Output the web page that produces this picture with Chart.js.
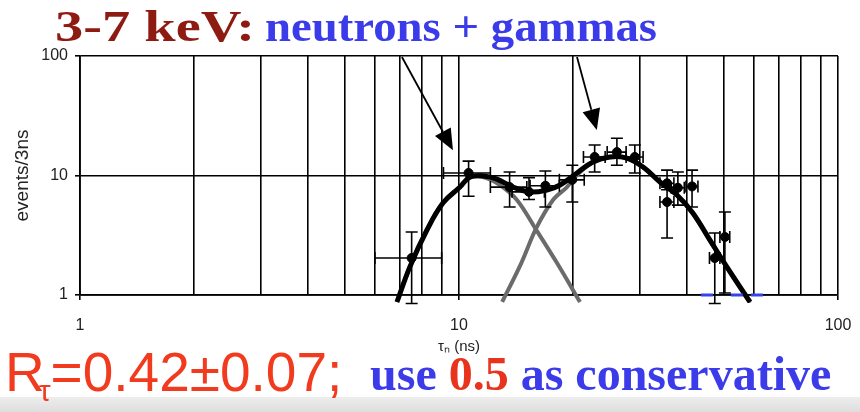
<!DOCTYPE html>
<html>
<head>
<meta charset="utf-8">
<script src="https://cdn.jsdelivr.net/npm/chart.js@4.4.0/dist/chart.umd.min.js"></script>
<style>
  html, body { margin: 0; padding: 0; background: #fff; }
  #wrap { position: relative; width: 860px; height: 412px; overflow: hidden; background: #fff; }
  #wrap canvas { position: absolute; left: 0; top: 0; }
  .heading { position: absolute; top: 5px; font: bold 44px/44px "Liberation Serif", serif; white-space: nowrap; transform-origin: 0 0; }
  .band { position: absolute; left: 0; right: 0; top: 397px; height: 15px; background: linear-gradient(#ededed, #dedede); }
  .ratio { position: absolute; left: 5px; top: 345px; font: 55px/55px "Liberation Sans", Arial, sans-serif; color: #f23a1e; white-space: nowrap; }
  .ratio sub { font-size: 30px; vertical-align: -10px; margin-left: -6px; }
  .note { position: absolute; left: 370px; top: 350px; font: bold 48px/48px "Liberation Serif", serif; color: #3b3bea; white-space: nowrap; }
  .red { color: #e8341c; }
</style>
</head>
<body>
<div id="wrap">
  <canvas id="chart" width="860" height="412"></canvas>
  <div class="heading" id="h1" style="left:55px;color:#8e1b12">3-7 keV:</div>
  <div class="heading" id="h2" style="left:265px;color:#3b3bea">neutrons + gammas</div>
  <div class="band"></div>
  <div class="ratio">R<sub>τ</sub>=0.42±0.07;</div>
  <div class="note">use <span class="red">0.5</span> as conservative</div>
</div>
<script>
// axis ticks
const xTicks = [1, 2, 3, 4, 5, 6, 7, 8, 9, 10, 20, 30, 40, 50, 60, 70, 80, 90, 100];
const yTicks = [1, 10, 100];
const tickLabels = ["1", "10", "100"];

// measured bins (ns) and counts with error bounds
const tau = [7.5, 10.6, 13.6, 15.3, 16.9, 19.9, 22.8, 26.1, 29.1, 35.4, 35.4, 37.8, 41.2, 47.3, 50.3];
const events = [2.04, 10.5, 8.0, 7.3, 8.2, 9.2, 14.3, 15.7, 14.3, 8.6, 6.0, 7.9, 8.1, 2.04, 3.06];
const eventsHi = [3.37, 13.2, 10.7, 9.6, 10.9, 12.2, 18.0, 20.5, 18.0, 11.1, 8.0, 10.7, 11.1, 3.3, 4.95];
const eventsLo = [0.85, 6.7, 5.45, 6.3, 5.45, 6.0, 10.7, 12.2, 10.5, 7.6, 3.0, 5.65, 5.45, 0.85, 1.04];
const binHalf = 1.5;

// empty bins sitting on the axis
const zeroTau = [45.1, 54.1, 61.1];
const zeroEvents = [1, 1, 1];

// fitted curves: sum, neutron part, gamma part
const fitTau = [6.86, 7.42, 8.23, 9.07, 10.06, 10.69, 11.57, 12.5, 13.88, 15.39, 17.06, 18.48, 20.48, 22.57, 25.0, 27.7, 30.6, 33.9, 37.6, 41.4, 45.9, 50.9, 58.6];
const fitSum = [0.874, 1.72, 3.5, 5.89, 8.01, 9.7, 9.9, 9.4, 8.01, 7.28, 7.56, 8.33, 10.5, 12.98, 14.28, 14.0, 11.78, 8.82, 6.87, 4.86, 2.89, 1.72, 0.874];
const nTau = [6.86, 7.42, 8.23, 9.07, 10.06, 10.69, 11.57, 12.82, 14.22, 15.87, 18.14, 20.86];
const nFit = [0.874, 1.72, 3.5, 5.89, 8.01, 9.6, 9.7, 8.33, 6.24, 3.64, 1.85, 0.874];
const gTau = [13.0, 14.6, 16.0, 17.7, 19.27, 20.48, 22.57, 25.0, 27.7, 30.6, 33.9, 37.6, 41.4, 45.9, 50.9, 58.6];
const gFit = [0.874, 1.85, 3.64, 6.24, 8.01, 10.1, 12.9, 14.2, 13.9, 11.7, 8.8, 6.8, 4.8, 2.85, 1.7, 0.86];

// arrow annotations, in data units
const arrowTail = [[7.07, 100], [20.48, 100]];
const arrowHead = [[9.64, 16.3], [23.1, 24.0]];

const pts = (xs, ys) => xs.map((v, i) => ({ x: v, y: ys[i] }));
const font = '"Liberation Sans", Arial, sans-serif';

// stretch the heading pieces to their set widths
[["h1", 200], ["h2", 392]].forEach(([id, w]) => {
  const el = document.getElementById(id);
  el.style.transform = "scaleX(" + w / el.getBoundingClientRect().width + ")";
});

const errorBars = {
  id: "errorBars",
  beforeDatasetDraw(chart, args) {
    if (chart.data.datasets[args.index].label !== "data") return;
    const { ctx, scales: { x, y } } = chart;
    const cap = 6;
    ctx.save();
    ctx.strokeStyle = "#000";
    ctx.lineWidth = 1.6;
    tau.forEach((t, i) => {
      const px = x.getPixelForValue(t);
      const py = y.getPixelForValue(events[i]);
      const top = y.getPixelForValue(eventsHi[i]);
      const bot = y.getPixelForValue(eventsLo[i]);
      const l = x.getPixelForValue(t - binHalf);
      const r = x.getPixelForValue(t + binHalf);
      ctx.beginPath();
      ctx.moveTo(px, top); ctx.lineTo(px, bot);
      ctx.moveTo(px - cap, top); ctx.lineTo(px + cap, top);
      ctx.moveTo(px - cap, bot); ctx.lineTo(px + cap, bot);
      ctx.moveTo(l, py); ctx.lineTo(r, py);
      ctx.moveTo(l, py - cap); ctx.lineTo(l, py + cap);
      ctx.moveTo(r, py - cap); ctx.lineTo(r, py + cap);
      ctx.stroke();
    });
    ctx.restore();
  },
};

const arrows = {
  id: "arrows",
  afterDatasetsDraw(chart) {
    const { ctx, scales: { x, y } } = chart;
    ctx.save();
    ctx.strokeStyle = "#000";
    ctx.fillStyle = "#000";
    ctx.lineWidth = 1.8;
    arrowTail.forEach((a, i) => {
      const x0 = x.getPixelForValue(a[0]), y0 = y.getPixelForValue(a[1]) + 1;
      const x1 = x.getPixelForValue(arrowHead[i][0]), y1 = y.getPixelForValue(arrowHead[i][1]);
      const ang = Math.atan2(y1 - y0, x1 - x0);
      const len = 21, half = 9;
      const bx = x1 - len * Math.cos(ang), by = y1 - len * Math.sin(ang);
      ctx.beginPath();
      ctx.moveTo(x0, y0); ctx.lineTo(bx, by);
      ctx.stroke();
      ctx.beginPath();
      ctx.moveTo(x1, y1);
      ctx.lineTo(bx + half * Math.sin(ang), by - half * Math.cos(ang));
      ctx.lineTo(bx - half * Math.sin(ang), by + half * Math.cos(ang));
      ctx.closePath();
      ctx.fill();
    });
    ctx.restore();
  },
};

const isMajor = (v) => yTicks.includes(v);

new Chart(document.getElementById("chart"), {
  type: "scatter",
  data: {
    datasets: [
      {
        label: "data",
        data: pts(tau, events),
        backgroundColor: "#000",
        borderColor: "#000",
        pointRadius: 4.5,
        order: 0,
      },
      {
        label: "empty",
        data: pts(zeroTau, zeroEvents),
        pointStyle: "line",
        pointRadius: 6,
        borderWidth: 3,
        borderColor: "#3344ee",
        clip: false,
        order: 0,
      },
      {
        label: "sum",
        type: "line",
        data: pts(fitTau, fitSum),
        borderColor: "#000",
        borderWidth: 5,
        pointRadius: 0,
        tension: 0.4,
        fill: false,
        clip: { left: 0, top: 0, right: 0, bottom: 8 },
        order: 1,
      },
      {
        label: "neutrons",
        type: "line",
        data: pts(nTau, nFit),
        borderColor: "#6b6b6b",
        borderWidth: 4,
        pointRadius: 0,
        tension: 0.35,
        fill: false,
        clip: { left: 0, top: 0, right: 0, bottom: 8 },
        order: 2,
      },
      {
        label: "gammas",
        type: "line",
        data: pts(gTau, gFit),
        borderColor: "#6b6b6b",
        borderWidth: 4,
        pointRadius: 0,
        tension: 0.35,
        fill: false,
        clip: { left: 0, top: 0, right: 0, bottom: 8 },
        order: 2,
      },
    ],
  },
  options: {
    responsive: false,
    animation: false,
    layout: { padding: { left: 0, top: 56, right: 22, bottom: 0 } },
    plugins: { legend: { display: false }, tooltip: { enabled: false } },
    scales: {
      x: {
        type: "logarithmic",
        position: "bottom",
        min: 1,
        max: 100,
        afterBuildTicks: (s) => { s.ticks = xTicks.map((v) => ({ value: v })); },
        afterFit: (s) => { s.height = 117; s.paddingLeft = 0; s.paddingRight = 0; },
        ticks: {
          autoSkip: false,
          maxRotation: 0,
          padding: 16,
          color: "#222",
          font: { family: font, size: 16 },
          callback: (v) => (isMajor(v) ? tickLabels[yTicks.indexOf(v)] : ""),
        },
        grid: {
          color: "#000",
          lineWidth: 1.6,
          tickLength: 5,
          tickColor: (c) => (c.tick && isMajor(c.tick.value) ? "#000" : "rgba(0,0,0,0)"),
        },
        border: { display: true, color: "#000", width: 1.8 },
        title: {
          display: true,
          text: "τₙ (ns)",
          color: "#222",
          font: { family: font, size: 15 },
          padding: { top: 0, bottom: 56 },
        },
      },
      y: {
        type: "logarithmic",
        position: "left",
        min: 1,
        max: 100,
        afterBuildTicks: (s) => { s.ticks = yTicks.map((v) => ({ value: v })); },
        afterFit: (s) => { s.width = 80; s.paddingTop = 0; s.paddingBottom = 0; },
        ticks: {
          padding: 7,
          color: "#222",
          font: { family: font, size: 16 },
          callback: (v) => tickLabels[yTicks.indexOf(v)] || "",
        },
        grid: { color: "#000", lineWidth: 1.6, tickLength: 5, tickColor: "#000" },
        border: { display: true, color: "#000", width: 1.8 },
        title: {
          display: true,
          text: "events/3ns",
          color: "#222",
          font: { family: font, size: 19 },
          padding: { top: 11, bottom: 0 },
        },
      },
    },
  },
  plugins: [errorBars, arrows],
});
</script>
</body>
</html>
